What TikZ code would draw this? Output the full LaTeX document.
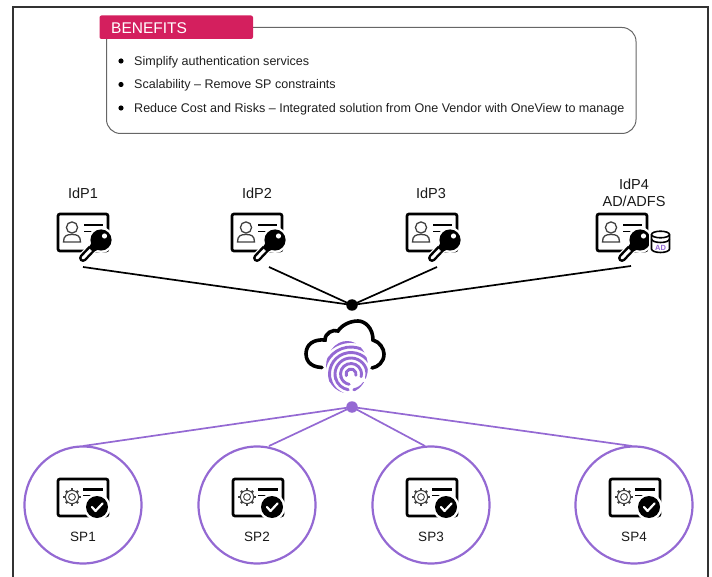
\documentclass[tikz,border=0pt]{standalone}
\usepackage{fontspec}
\setmainfont{Liberation Sans}
\definecolor{pur}{HTML}{9469D3}
\definecolor{pink}{HTML}{D41F5E}
\definecolor{frame}{HTML}{333333}
\definecolor{boxg}{HTML}{666666}
\tikzset{
  x=1pt,y=-1pt,
  lab/.style={inner sep=0pt,font=\fontsize{14.5}{16.5}\selectfont,align=center,text=black!90},
  splab/.style={inner sep=0pt,font=\fontsize{13.5}{16}\selectfont,text=black!90},
  bul/.style={anchor=base west,inner sep=0pt,font=\fontsize{12.55}{14}\selectfont,text=black!88},
  dotb/.style={circle,fill=black,inner sep=0pt,minimum size=11.5pt},
  dotp/.style={circle,fill=pur,inner sep=0pt,minimum size=11.5pt},
  spc/.style={circle,draw=pur,line width=2.2pt,minimum size=117pt,inner sep=0pt},
  conb/.style={draw=black,line width=1.7pt},
  conp/.style={draw=pur,line width=1.7pt},
  fp/.style={pur,line width=2.9pt,line cap=round},
  idicon/.pic={
    \draw[line width=2.7pt,rounded corners=2pt] (0,0) rectangle (50,37);
    \draw[line width=1.3pt,black!75] (14,13.5) circle (5.6);
    \draw[line width=1.3pt,black!75] (5.5,28) .. controls (5.5,21.5) and (9,20.5) .. (14,20.5) .. controls (19,20.5) and (22.5,21.5) .. (22.5,28) -- cycle;
    \draw[line width=1.9pt] (26,11) -- (45,11);
    \draw[line width=1.9pt] (26,17.5) -- (35,17.5);
    \draw[line width=10.5pt,white,line cap=round] (25,44) -- (42,26);
    \draw[line width=8pt,black,line cap=round] (25,44) -- (41,27);
    \draw[line width=3pt,white,line cap=round] (25,44) -- (36,32.5);
    \fill[white] (43,26) circle (13);
    \fill[black] (43,26) circle (10.6);
    \fill[black] (36,33) circle (4.5);
    \fill[white] (46.5,22) circle (2.6);
  },
  spicon/.pic={
    \draw[line width=2.7pt,rounded corners=2pt] (0,0) rectangle (50,37);
    \foreach \a in {0,45,...,315} \draw[line width=2.4pt,black!75] (14,18)++(\a:6) -- ++(\a:2.6);
    \draw[line width=1pt,black!75,fill=white] (14,18) circle (6.6);
    \draw[line width=0.9pt,black!75] (14,18) circle (3.4);
    \draw[line width=2.2pt] (25,10.5) -- (45,10.5);
    \draw[line width=1.8pt] (25,16.5) -- (34,16.5);
    \fill[white] (39,28) circle (13.5);
    \fill[black] (39,28) circle (11);
    \draw[white,line width=2.2pt,line cap=round,line join=round] (34,28) -- (37.5,32) -- (44.5,24.5);
  }
}
\begin{document}
\begin{tikzpicture}
\useasboundingbox (0,0) rectangle (712,577);
% frame
\draw[frame,line width=2pt] (13,577) -- (13,7) -- (708,7) -- (708,577);
% benefits box
\draw[boxg,line width=1pt,rounded corners=14pt] (106.5,27.5) rectangle (636,133.5);
\fill[pink,rounded corners=2pt] (99.5,15.5) rectangle (253,39);
\node[anchor=west,inner sep=0pt,text=white,font=\fontsize{15.5}{18}\selectfont] (ben) at (111,28) {BENEFITS};
\fill[black] (121,61) circle (2.6) (121,84.5) circle (2.6) (121,108) circle (2.6);
\node[bul] (b1) at (134,65.5) {Simplify authentication services};
\node[bul] (b2) at (134,89) {Scalability – Remove SP constraints};
\node[bul] (b3) at (134,112.5) {Reduce Cost and Risks – Integrated solution from One Vendor with OneView to manage};
% IdP labels
\node[lab] (l1) at (83,193) {IdP1};
\node[lab] (l2) at (257,193) {IdP2};
\node[lab] (l3) at (431,193) {IdP3};
\node[lab] (l4) at (634,193) {IdP4\\AD/ADFS};
% icons
\pic at (58,214) {idicon};
\pic at (232,214) {idicon};
\pic at (407,214) {idicon};
\pic at (597,214) {idicon};
% database
\begin{scope}[shift={(660.5,242)}]
\fill[white] (-12,-13) rectangle (12,13);
\draw[line width=1.6pt] (-9,-7) -- (-9,7) arc[start angle=180,end angle=360,x radius=9,y radius=-3.5] -- (9,-7);
\draw[line width=1.6pt] (0,-7.5) ellipse[x radius=9,y radius=3.3];
\draw[line width=1.6pt] (-9,-3) arc[start angle=180,end angle=360,x radius=9,y radius=-3.5];
\node[inner sep=0pt,text=pur,font=\bfseries\fontsize{7.5}{9}\selectfont] (ad) at (0,5.5) {AD};
\end{scope}
% top connectors
\coordinate (a1) at (83,267);
\coordinate (a2) at (269,267);
\coordinate (a3) at (437,267);
\coordinate (a4) at (631,266);
\node[dotb] (jb) at (352,305) {};
\foreach \n in {a1,a2,a3,a4} \draw[conb] (\n) -- (jb.center);
% cloud
\draw[line width=3.6pt,line cap=round] (322,367.5) .. controls (308,367) and (306,358) .. (306,354) .. controls (306,344) and (314,339) .. (325,340) .. controls (325,333) and (333,329) .. (338,331) .. controls (342,325) and (350,321) .. (358,321) .. controls (365,321) and (373,328) .. (373,340) .. controls (380,342) and (384,349) .. (384,354) .. controls (384,362) and (378,367) .. (372,368);
% fingerprint
\begin{scope}
\clip (347,367) ellipse[x radius=21,y radius=26];
\foreach \r in {5,10.5,16,21.5,27,32.5} {
  \draw[fp] (351,374) ++(-200:\r) arc[start angle=-200,end angle=15,radius=\r];
}
\foreach \r in {10.5,16,21.5} {
  \draw[fp] (351,374) ++(165:\r) arc[start angle=165,end angle=100,radius=\r];
}
\foreach \r in {16,21.5,27} {
  \draw[fp] (351,374) ++(80:\r) arc[start angle=80,end angle=35,radius=\r];
}
\draw[fp] (351,379) ++(150:27) arc[start angle=150,end angle=115,radius=27];
\end{scope}
% bottom connectors and SP circles
\node[spc] (s1) at (83,505) {};
\node[spc] (s2) at (257,505) {};
\node[spc] (s3) at (431,505) {};
\node[spc] (s4) at (634,505) {};
\node[dotp] (jp) at (352,407) {};
\coordinate (p1) at (83,446);
\coordinate (p2) at (269,446);
\coordinate (p3) at (425,446);
\coordinate (p4) at (632,446);
\foreach \n in {p1,p2,p3,p4} \draw[conp] (jp.center) -- (\n);
\pic at (58,479) {spicon};
\pic at (233,479) {spicon};
\pic at (407,479) {spicon};
\pic at (610,479) {spicon};
\node[splab] (t1) at (83,537) {SP1};
\node[splab] (t2) at (257,537) {SP2};
\node[splab] (t3) at (431,537) {SP3};
\node[splab] (t4) at (634,537) {SP4};
\end{tikzpicture}
\end{document}
